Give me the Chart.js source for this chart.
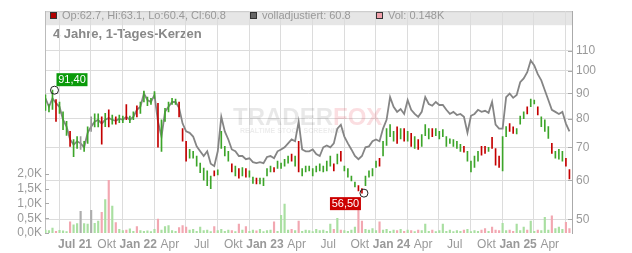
<!DOCTYPE html>
<html>
<head>
<meta charset="utf-8">
<script src="https://cdn.jsdelivr.net/npm/chart.js@4.4.1/dist/chart.umd.min.js"></script>
<style>
html, body { margin: 0; padding: 0; background: #fff; }
</style>
</head>
<body>
<canvas id="mycanvas" width="632" height="253"></canvas>
<script>
var FONT = '"Liberation Sans", Arial, sans-serif';

// x axis: months since Jan 2021
var tickMonths = [6, 9, 12, 15, 18, 21, 24, 27, 30, 33, 36, 39, 42, 45, 48, 51];
var tickLabels = ['Jul 21', 'Okt', 'Jan 22', 'Apr', 'Jul', 'Okt', 'Jan 23', 'Apr', 'Jul', 'Okt', 'Jan 24', 'Apr', 'Jul', 'Okt', 'Jan 25', 'Apr'];
var priceTicks = [50, 60, 70, 80, 90, 100, 110];
var volTicks = [0, 0.5, 1, 1.5, 2];

// one sample every ~10 days, first one early April 2021
var firstMonth = 3.2;
var monthStep = 1 / 3;

// volladjustiert (grey line)
var adjusted = [88,84.6,88,86,84.6,79.6,77.1,72.6,70.9,72,
  71.3,70,74.9,77.1,78.9,79.6,78.2,79.6,80.3,79.6,
  79.2,80,79.6,80.7,79.6,80.7,83.4,84.6,90,87.3,
  86.5,89.4,78.9,73.6,82.6,84.6,86.5,86.5,84.2,78.2,
  75.4,74.9,73.6,70.3,68.7,67.2,68.7,64.8,64.1,68.7,
  80.7,75.4,72.6,69.3,68.7,67.2,67.2,66.2,66.5,65.3,
  65,65.3,65,66.9,67.2,66.5,68.7,69.3,70,71.3,
  72.6,72,78.9,69.3,68.7,68.7,69.3,67.8,67.2,70,
  70.6,70,71.3,76.4,77.8,73.6,71.3,69.3,67.2,66.2,
  67.2,70,70.3,72,72.6,72,76.4,79.6,88.5,84.6,
  82.6,83.7,81.8,87.3,83.4,81.8,80.7,82.6,88.5,85.7,
  85,86.5,85.3,85.3,83.4,81.8,82.6,81.4,81.8,80.7,
  74.9,81.1,81.8,83.4,82.6,83,82.2,86.5,77.8,76.4,
  76.4,88.5,90,88.2,89.4,94.9,96.6,99.4,105,102.6,
  98.5,95.7,91.4,87.3,83.4,82.6,81.8,82.6,78.2,75.4];

// candle ranges
var candleLo = [83.2,82.6,83.5,79,82,76,74,70.3,67,69.6,
  69.3,68.7,71.3,75.4,77,77,71,77.1,77,78,
  78,78.5,78.5,79.6,78.5,79.6,80.7,82,86.5,85,
  85.5,88,70,68.7,79,82.6,85.5,85.5,80.7,72,
  65.6,66.5,66.5,64.1,62.2,60,58.5,57.7,61.2,61.5,
  69.6,67.2,65.6,62.4,61.2,60.6,61.2,60.9,60.9,59.1,
  59,59,58.5,61.2,62.4,62.4,63.4,63.4,64.1,65,
  65.6,64.1,62.4,61.2,62.4,62.7,61.2,62.4,62.7,62.4,
  62.7,64.1,62.7,64.8,65.6,62.7,60.9,59.8,58.2,57.1,
  56.5,58.5,60.9,61.2,63.7,64.1,67.2,70.6,73.6,72,
  71.3,72.8,72,72,70.3,69.6,69.3,70.3,73.9,72.8,
  73.6,73.9,72.8,73.6,70.3,71.3,70.3,69.6,68.7,68.4,
  65.6,62.4,63.7,65.6,67.5,68,68.7,69.6,64.4,63.7,
  62.7,73.6,75.4,74.7,74.5,78,80,81.8,84.6,85.7,
  81.4,77.1,75.4,73,68,66.5,66.2,65.6,64.1,60.4];
var candleHi = [89.4,85.5,91.4,87.5,86.5,82.6,79,75.4,72.6,73.6,
  73.6,72,77,80.7,81.8,81.8,80.7,82,83.4,81.4,
  80.7,81.4,81,85.5,81,82.6,85,86.5,91,88.5,
  88,90.8,86,79.6,84,86.5,88,87.7,86.5,76.4,
  72,69.3,68.7,67.2,65,63.5,62.7,61.2,62.7,63,
  75.4,70.3,68.7,64.8,64.1,63.4,63.7,63.4,62.7,60.9,
  60.6,60.6,60.6,63.4,64.1,63.7,65.6,65,66.2,67.2,
  67.8,67.2,72,63.4,64.1,64.1,63.4,64.1,64.8,64.1,
  65.6,67.2,64.8,67.8,68.7,64.1,63.4,61.2,59.5,58.5,
  57.7,61.2,62.7,63.4,65.6,66.5,72,76.4,77.8,75.4,
  77,76.4,76.4,75.4,74.7,73.6,72.6,74.3,77.8,76.4,
  76.4,76.4,75.4,76,73.6,72.8,72.6,72,71,70.3,
  68.7,65.6,67.2,68.7,70.3,70.3,70,73.3,69.6,67.2,
  73.6,77.1,78.2,77,76.4,81,82.6,84.6,87.7,87.3,
  84.6,80.7,79.6,77.1,71.3,68.7,69.3,68.7,66.5,63.1];
// g = up, r = down, n = unchanged
var candleDir = ['g','g','g','r','g','g','g','r','g','g',
  'n','g','g','n','g','g','r','g','r','g',
  'r','g','g','r','g','g','r','g','g','g',
  'g','g','r','g','g','g','g','g','r','r',
  'r','g','g','g','g','g','g','g','r','g',
  'g','g','g','r','g','r','g','r','g','g',
  'r','g','g','g','g','r','g','g','g','g',
  'r','g','r','g','g','g','g','g','g','g',
  'g','g','r','g','r','g','g','g','g','r',
  'r','g','g','g','g','r','g','g','g','g',
  'r','g','r','g','r','g','r','g','g','g',
  'r','g','g','g','g','g','g','g','g','r',
  'g','g','g','g','r','r','g','r','r','r',
  'g','g','r','r','g','g','g','r','g','g',
  'r','g','g','g','r','g','g','g','r','r'];
// volume in thousand
var volume = [0.1,0.08,0.17,0.06,0.09,0.07,0.05,0.38,0.28,0.32,
  0.73,0.32,0.3,0.77,0.33,0.4,0.7,1.13,1.78,0.91,
  0.35,0.12,0.08,0.1,0.14,0.06,0.22,0.08,0.06,0.07,
  0.05,0.12,0.47,0.1,0.22,0.25,0.08,0.06,0.18,0.25,
  0.2,0.1,0.12,0.06,0.2,0.08,0.1,0.05,0.22,0.08,
  0.12,0.06,0.1,0.08,0.05,0.3,0.1,0.22,0.06,0.1,
  0.07,0.12,0.05,0.08,0.1,0.38,0.06,0.6,0.98,0.1,
  0.12,0.08,0.4,0.06,0.1,0.08,0.05,0.12,0.08,0.1,
  0.06,0.3,0.12,0.5,0.1,0.08,0.06,0.1,0.2,0.8,
  0.4,0.12,0.1,0.15,0.08,0.38,0.1,0.12,0.06,0.1,
  0.08,0.12,0.06,0.1,0.08,0.05,0.1,0.08,0.3,0.06,
  0.1,0.05,0.08,0.3,0.06,0.1,0.05,0.08,0.06,0.1,
  0.12,0.05,0.08,0.06,0.1,0.15,0.06,0.2,0.1,0.08,
  0.33,0.08,0.1,0.06,0.3,0.08,0.2,0.1,0.4,0.06,
  0.1,0.08,0.53,0.1,0.58,0.15,0.2,0.12,0.36,0.15];

var candleColors = { g: '#3da52a', r: '#c40000', n: '#999999' };
var volColors = { g: '#a9dfa1', r: '#f2a7b1', n: '#adadad' };

var xs = adjusted.map(function(v, i) { return firstMonth + i * monthStep; });

//################################ header + watermark ################################//
var headerPlugin = {
  id: 'header',
  beforeDraw: function(chart) {
    var c = chart.ctx, a = chart.chartArea;
    c.save();
    c.fillStyle = '#e6e6e6';
    c.fillRect(a.left, a.top, a.right - a.left, 14);
    c.strokeStyle = '#c8c8c8';
    c.lineWidth = 1;
    c.beginPath();
    c.moveTo(a.left, a.top + 0.5);
    c.lineTo(a.right, a.top + 0.5);
    c.stroke();
    c.font = 'bold 13px ' + FONT;
    c.fillStyle = '#888';
    c.textBaseline = 'alphabetic';
    c.fillText('4 Jahre, 1-Tages-Kerzen', 53, 38);
    c.restore();
  },
  beforeDatasetsDraw: function(chart) {
    var c = chart.ctx;
    c.save();
    // legend row, on top of the grid lines
    var items = [
      { x: 50, fill: '#b00000', text: 'Op:62.7, Hi:63.1, Lo:60.4, Cl:60.8' },
      { x: 250, fill: '#666666', text: 'volladjustiert: 60.8' },
      { x: 376, fill: '#f0a0aa', text: 'Vol: 0.148K' }
    ];
    c.font = '11px ' + FONT;
    c.textBaseline = 'middle';
    c.lineWidth = 1;
    items.forEach(function(it) {
      c.fillStyle = it.fill;
      c.fillRect(it.x + 0.5, 12.5, 6, 6);
      c.strokeStyle = '#333';
      c.strokeRect(it.x + 0.5, 12.5, 6, 6);
      c.fillStyle = '#999';
      c.fillText(it.text, it.x + 12, 16);
    });

    c.font = 'bold 24px ' + FONT;
    c.textBaseline = 'alphabetic';
    c.fillStyle = 'rgba(0,0,0,0.09)';
    c.fillText('TRADER', 233, 125);
    var w = c.measureText('TRADER').width;
    c.fillStyle = 'rgba(230,50,70,0.16)';
    c.fillText('FOX', 233 + w, 125);
    c.font = 'bold 7px ' + FONT;
    c.fillStyle = 'rgba(0,0,0,0.08)';
    c.fillText('REALTIME STOCK SCREENING', 240, 133);
    c.restore();
  },
  afterDatasetsDraw: function(chart) {
    var c = chart.ctx, a = chart.chartArea;
    var xS = chart.scales.x, yS = chart.scales.y, vS = chart.scales.yv;
    c.save();
    // small inward tick marks
    c.strokeStyle = '#aaa';
    c.lineWidth = 1;
    volTicks.forEach(function(v) {
      var y = Math.round(vS.getPixelForValue(v)) + 0.5;
      c.beginPath(); c.moveTo(a.left, y); c.lineTo(a.left + 4, y); c.stroke();
    });
    priceTicks.forEach(function(v) {
      var y = Math.round(yS.getPixelForValue(v)) + 0.5;
      c.beginPath(); c.moveTo(a.right - 4, y); c.lineTo(a.right, y); c.stroke();
    });

    // high / low markers
    var hiIdx = 0, loIdx = 0;
    for (var i = 0; i < candleHi.length; i++) {
      if (candleHi[i] > candleHi[hiIdx]) hiIdx = i;
      if (candleLo[i] < candleLo[loIdx]) loIdx = i;
    }
    var marks = [
      { i: hiIdx, v: candleHi[hiIdx], color: '#0a9a0a', up: true },
      { i: loIdx, v: candleLo[loIdx], color: '#cc0000', up: false }
    ];
    c.font = '11px ' + FONT;
    c.textAlign = 'center';
    c.textBaseline = 'middle';
    marks.forEach(function(m) {
      var cx = xS.getPixelForValue(xs[m.i]) + 2;
      var cy = yS.getPixelForValue(m.v);
      c.strokeStyle = '#222';
      c.beginPath();
      c.arc(cx, cy, 4, 0, Math.PI * 2);
      c.stroke();
      var label = m.v.toFixed(2).replace('.', ',');
      var bw = 31, bh = 13;
      var bx = m.up ? cx + 2 : cx - 3 - bw;
      var by = m.up ? cy - 4 - bh : cy + 4;
      c.fillStyle = m.color;
      c.fillRect(bx, by, bw, bh);
      c.fillStyle = '#fff';
      c.fillText(label, bx + bw / 2, by + bh / 2 + 0.5);
    });
    c.restore();
  }
};

//################################ chart ################################//
var ctx = document.getElementById('mycanvas');
var chart = new Chart(ctx, {
  type: 'bar',
  data: {
    datasets: [
      {
        type: 'bar',
        label: 'Kerzen',
        yAxisID: 'y',
        data: xs.map(function(x, i) { return { x: x, y: [candleLo[i], candleHi[i]] }; }),
        backgroundColor: candleDir.map(function(d) { return candleColors[d]; }),
        barThickness: 1,
        grouped: false,
        order: 1
      },
      {
        type: 'line',
        label: 'volladjustiert',
        yAxisID: 'y',
        data: xs.map(function(x, i) { return { x: x, y: adjusted[i] }; }),
        borderColor: '#858585',
        borderWidth: 1.8,
        pointRadius: 0,
        tension: 0,
        order: 2
      },
      {
        type: 'bar',
        label: 'Vol',
        yAxisID: 'yv',
        data: xs.map(function(x, i) { return { x: x, y: volume[i] }; }),
        backgroundColor: candleDir.map(function(d) { return volColors[d]; }),
        barThickness: 1.5,
        grouped: false,
        order: 3
      }
    ]
  },
  options: {
    responsive: false,
    animation: false,
    devicePixelRatio: 1,
    layout: { padding: { top: 8, left: 0, right: 0, bottom: 0 } },
    plugins: { legend: { display: false }, tooltip: { enabled: false } },
    scales: {
      x: {
        type: 'linear',
        min: 3.157,
        max: 53.11,
        offset: false,
        afterBuildTicks: function(s) { s.ticks = tickMonths.map(function(v) { return { value: v }; }); },
        afterFit: function(s) { s.height = 20; },
        ticks: {
          autoSkip: false,
          maxRotation: 0,
          padding: 4,
          color: '#999',
          font: function(c) {
            var lab = tickLabels[c.index] || '';
            return { family: FONT, size: 12, weight: /\d/.test(lab) ? 'bold' : 'normal' };
          },
          callback: function(v, i) { return tickLabels[i]; }
        },
        grid: { color: '#dcdcdc', lineWidth: 1, drawTicks: false },
        border: { display: false }
      },
      y: {
        type: 'logarithmic',
        position: 'right',
        min: 46.9,
        max: 132.2,
        afterBuildTicks: function(s) { s.ticks = priceTicks.map(function(v) { return { value: v }; }); },
        afterFit: function(s) { s.width = 60; },
        ticks: {
          padding: 4,
          color: '#999',
          font: { family: FONT, size: 12 },
          callback: function(v) { return String(v); }
        },
        grid: { color: '#dcdcdc', lineWidth: 1, drawTicks: false },
        border: { display: true, color: '#aaa' }
      },
      yv: {
        type: 'linear',
        position: 'left',
        min: 0,
        max: 7.5,
        afterBuildTicks: function(s) { s.ticks = volTicks.map(function(v) { return { value: v }; }); },
        afterFit: function(s) { s.width = 45; },
        ticks: {
          padding: 3,
          color: '#999',
          font: { family: FONT, size: 12 },
          callback: function(v) { return v.toFixed(1).replace('.', ',') + 'K'; }
        },
        grid: { display: false, drawTicks: false },
        border: { display: true, color: '#bbb' }
      }
    }
  },
  plugins: [headerPlugin]
});
</script>
</body>
</html>
